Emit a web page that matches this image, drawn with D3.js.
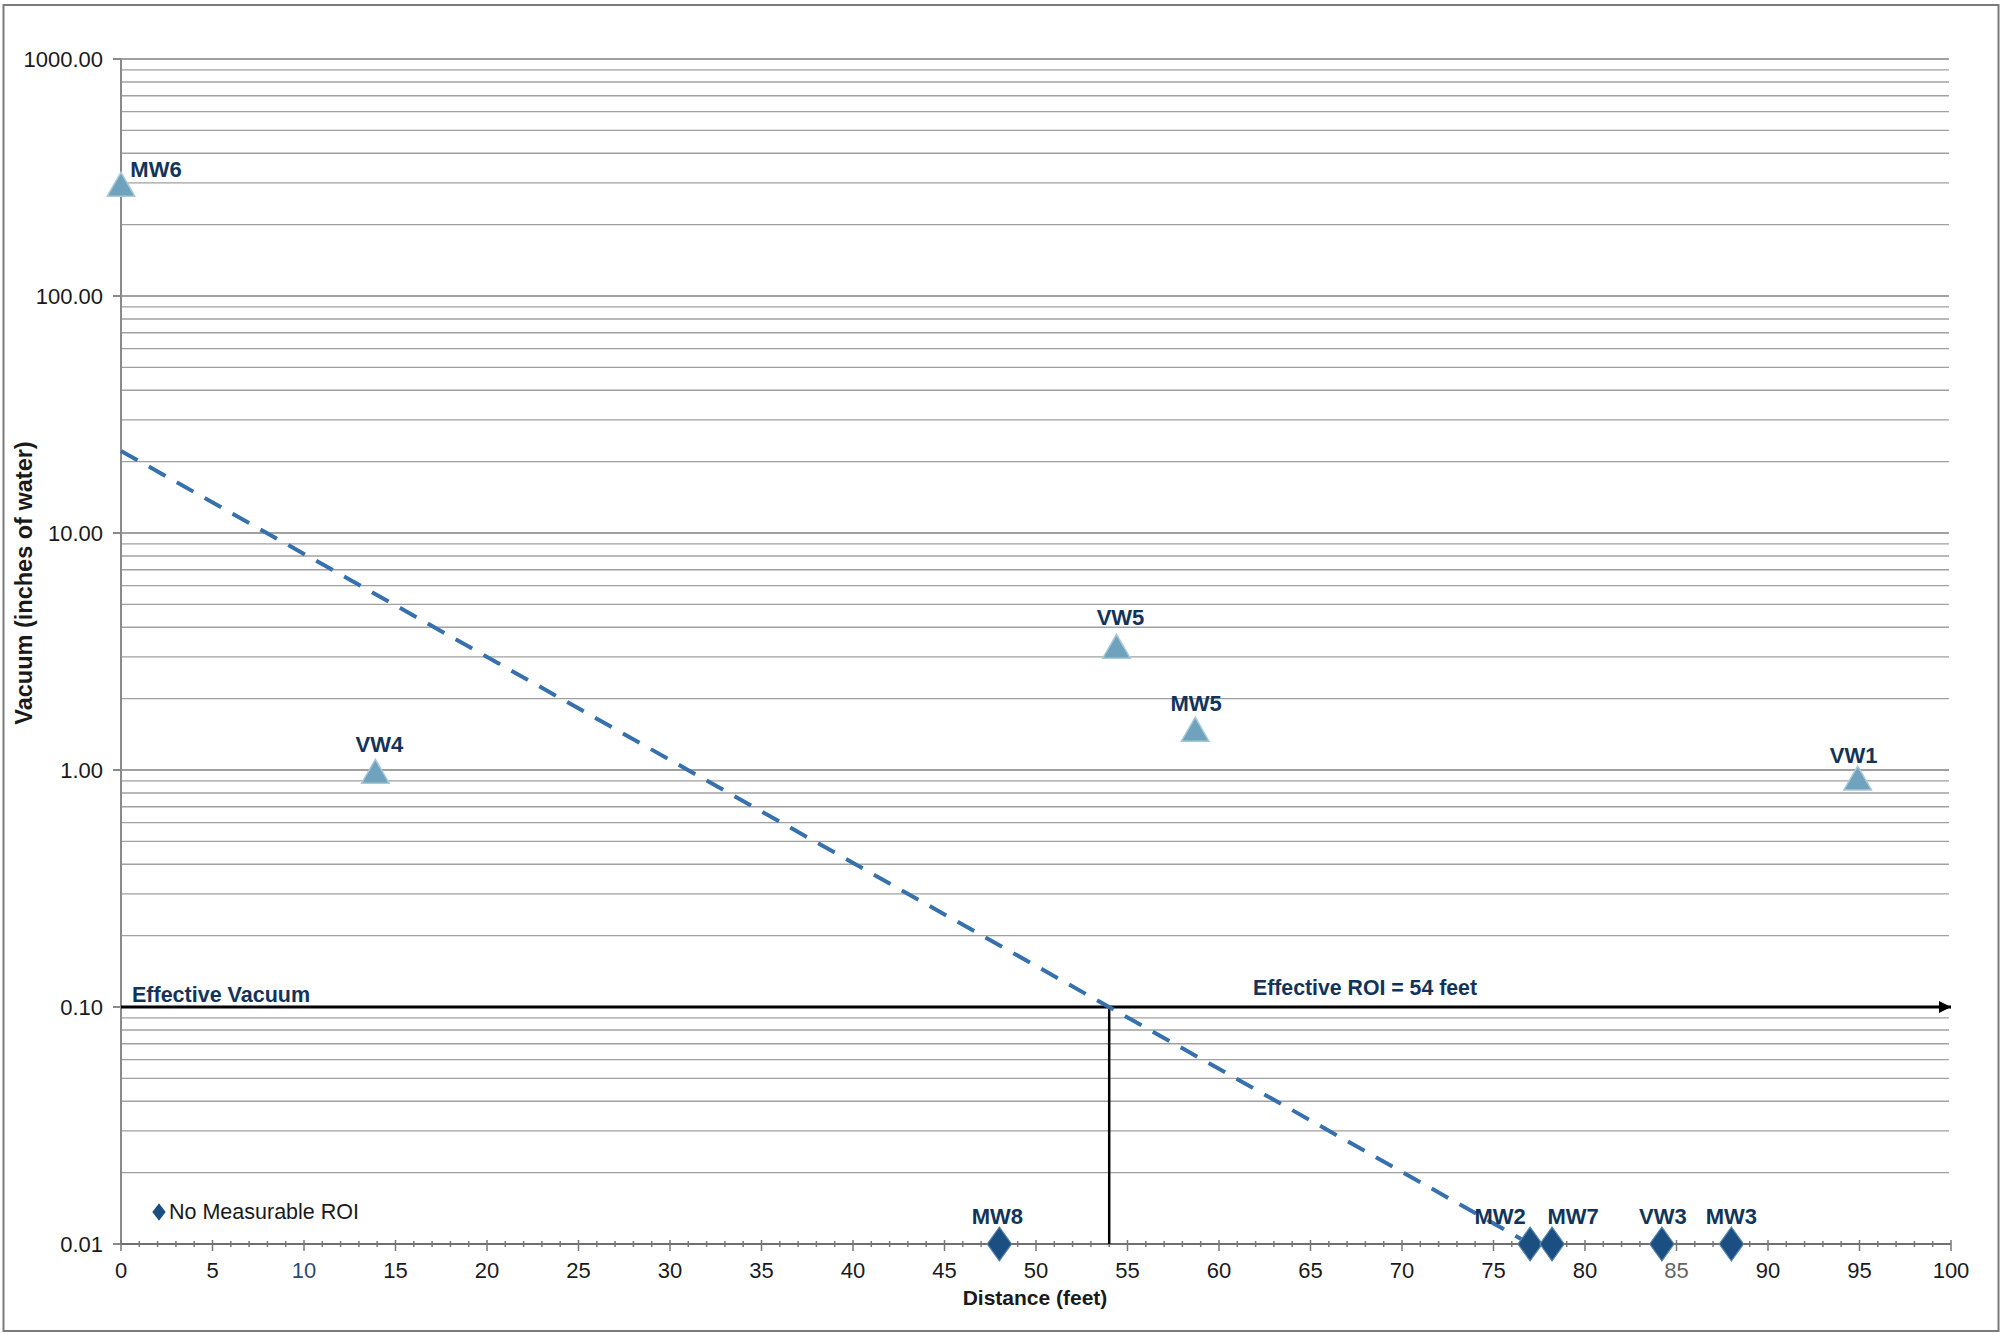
<!DOCTYPE html>
<html>
<head>
<meta charset="utf-8">
<script src="https://cdn.jsdelivr.net/npm/d3@7"></script>
<style>
  html, body { margin: 0; padding: 0; background: #fff; }
  svg { display: block; font-family: "Liberation Sans", Arial, sans-serif; }
  .grid-major { stroke: #808080; stroke-width: 1.7; }
  .grid-minor { stroke: #a0a0a0; stroke-width: 1.4; }
  .pt-label { font-weight: bold; font-size: 22px; fill: #12345a; text-anchor: middle; }
  .tick-label { font-size: 22px; fill: #1a1a1a; }
</style>
</head>
<body>
<div id="chart"></div>
<script>
// ---- Data ----
var wellNames     = ['MW6', 'VW4', 'VW5', 'MW5', 'VW1'];
var wellDistance  = [0, 13.9, 54.4, 58.7, 94.9];
var wellVacuum    = [285, 0.95, 3.2, 1.43, 0.89];

var noRoiNames    = ['MW8', 'MW2', 'MW7', 'VW3', 'MW3'];
var noRoiDistance = [48, 77, 78.2, 84.2, 88];
var noRoiVacuum   = [0.01, 0.01, 0.01, 0.01, 0.01];

var trendDistance = [0, 77];
var trendVacuum   = [22.2, 0.01];

var effectiveVacuum = 0.1;
var effectiveRoi    = 54;

var xTicks = d3.range(0, 101, 5);
var yTickLabels = [1000, 100, 10, 1, 0.1, 0.01];

// label nudges (pixels) where the labels are not centred over the mark
var LABEL_DX = { MW6: 35, VW4: 4, VW5: 4, MW5: 1, VW1: -4, MW8: -2, MW2: -30, MW7: 21, VW3: 1, MW3: 0 };
var LABEL_DY = { MW6: -11, VW4: -23, VW5: -25, MW5: -22, VW1: -19 };

var W = 2009, H = 1334;
var PLOT = { left: 121, right: 1951, top: 59, bottom: 1244 };

var svg = d3.select('#chart').append('svg')
  .attr('width', W)
  .attr('height', H);

// outer frame
svg.append('rect')
  .attr('x', 3.5).attr('y', 5)
  .attr('width', 1995).attr('height', 1326)
  .attr('fill', 'none')
  .attr('stroke', '#7a7a7a')
  .attr('stroke-width', 2);

var x = d3.scaleLinear().domain([0, 100]).range([PLOT.left, PLOT.right]);
var y = d3.scaleLog().domain([0.01, 1000]).range([PLOT.bottom, PLOT.top]);

// ---- Gridlines (log decades + 2..9 minors) ----
var gridVals = [];
[0.01, 0.1, 1, 10, 100].forEach(function (d) {
  for (var k = 1; k <= 9; k++) gridVals.push({ v: k * d, major: k === 1 });
});
gridVals.push({ v: 1000, major: true });

svg.append('g').selectAll('line')
  .data(gridVals.filter(function (d) { return d.v > 0.01; }))
  .enter().append('line')
  .attr('class', function (d) { return d.major ? 'grid-major' : 'grid-minor'; })
  .attr('x1', PLOT.left).attr('x2', PLOT.right - 2)
  .attr('y1', function (d) { return y(d.v); })
  .attr('y2', function (d) { return y(d.v); });

// ---- Y axis ----
var yAxis = svg.append('g');
yAxis.append('line')
  .attr('x1', PLOT.left).attr('x2', PLOT.left)
  .attr('y1', PLOT.top).attr('y2', PLOT.bottom)
  .attr('stroke', '#8a8a8a').attr('stroke-width', 2);

yAxis.selectAll('.ytick')
  .data(yTickLabels)
  .enter().append('line')
  .attr('x1', PLOT.left - 8).attr('x2', PLOT.left)
  .attr('y1', function (d) { return y(d); })
  .attr('y2', function (d) { return y(d); })
  .attr('stroke', '#8a8a8a').attr('stroke-width', 2);

yAxis.selectAll('text')
  .data(yTickLabels)
  .enter().append('text')
  .attr('class', 'tick-label')
  .attr('x', PLOT.left - 18)
  .attr('y', function (d) { return y(d) + 8; })
  .attr('text-anchor', 'end')
  .text(function (d) { return d.toFixed(2); });

// ---- X axis ----
var xAxis = svg.append('g');
xAxis.append('line')
  .attr('x1', PLOT.left).attr('x2', PLOT.right)
  .attr('y1', PLOT.bottom).attr('y2', PLOT.bottom)
  .attr('stroke', '#707070').attr('stroke-width', 2);

xAxis.selectAll('.xminor')
  .data(d3.range(0, 101, 1))
  .enter().append('line')
  .attr('x1', function (d) { return x(d); })
  .attr('x2', function (d) { return x(d); })
  .attr('y1', function (d) { return PLOT.bottom - (d % 5 === 0 ? 4 : 3); })
  .attr('y2', function (d) { return PLOT.bottom + (d % 5 === 0 ? 7 : 3); })
  .attr('stroke', '#777').attr('stroke-width', 1.5);

xAxis.selectAll('text')
  .data(xTicks)
  .enter().append('text')
  .attr('class', 'tick-label')
  .attr('x', function (d) { return x(d); })
  .attr('y', 1278)
  .attr('text-anchor', 'middle')
  .style('fill', function (d) { return d === 10 ? '#2b4a7c' : (d === 85 ? '#666' : null); })
  .text(function (d) { return d; });

// axis titles
svg.append('text')
  .attr('x', 1035).attr('y', 1305)
  .attr('text-anchor', 'middle')
  .attr('font-size', 21).attr('font-weight', 'bold').attr('fill', '#1a1a1a')
  .text('Distance (feet)');

svg.append('text')
  .attr('transform', 'translate(32,583) rotate(-90)')
  .attr('text-anchor', 'middle')
  .attr('font-size', 23.5).attr('font-weight', 'bold').attr('fill', '#1a1a1a')
  .text('Vacuum (inches of water)');

// ---- Effective vacuum / ROI lines ----
var defs = svg.append('defs');
defs.append('marker')
  .attr('id', 'arrow')
  .attr('viewBox', '0 0 10 10')
  .attr('refX', 10).attr('refY', 5)
  .attr('markerUnits', 'userSpaceOnUse')
  .attr('markerWidth', 16).attr('markerHeight', 12)
  .attr('orient', 'auto')
  .append('path')
  .attr('d', 'M0,0 L10,5 L0,10 Z')
  .attr('fill', '#000');

svg.append('line')
  .attr('x1', x(0)).attr('x2', x(100))
  .attr('y1', y(effectiveVacuum)).attr('y2', y(effectiveVacuum))
  .attr('stroke', '#000').attr('stroke-width', 3)
  .attr('marker-end', 'url(#arrow)');

svg.append('line')
  .attr('x1', x(effectiveRoi)).attr('x2', x(effectiveRoi))
  .attr('y1', y(effectiveVacuum)).attr('y2', y(0.01))
  .attr('stroke', '#000').attr('stroke-width', 2.5);

svg.append('text')
  .attr('x', 132).attr('y', 1002)
  .attr('font-size', 21.5).attr('font-weight', 'bold').attr('fill', '#12345a')
  .text('Effective Vacuum');

svg.append('text')
  .attr('x', 1253).attr('y', 995)
  .attr('font-size', 22.5).attr('font-weight', 'bold').attr('fill', '#12345a')
  .attr('textLength', 224).attr('lengthAdjust', 'spacingAndGlyphs')
  .text('Effective ROI = ' + effectiveRoi + ' feet');

// ---- Trendline ----
var trend = trendDistance.map(function (d, i) { return [d, trendVacuum[i]]; });
svg.append('path')
  .datum(trend)
  .attr('d', d3.line()
    .x(function (d) { return x(d[0]); })
    .y(function (d) { return y(d[1]); }))
  .attr('fill', 'none')
  .attr('stroke', '#3670ad')
  .attr('stroke-width', 4)
  .attr('stroke-dasharray', '19,13');

// ---- Measured wells (triangles) ----
var tri = d3.symbol().type(d3.symbolTriangle).size(330);
var wells = wellNames.map(function (n, i) {
  return { name: n, x: wellDistance[i], y: wellVacuum[i] };
});

svg.append('g').selectAll('path')
  .data(wells)
  .enter().append('path')
  .attr('d', tri)
  .attr('transform', function (d) { return 'translate(' + x(d.x) + ',' + y(d.y) + ')'; })
  .attr('fill', '#6fa2bd')
  .attr('stroke', '#a9c8d8')
  .attr('stroke-width', 1.5);

svg.append('g').selectAll('text')
  .data(wells)
  .enter().append('text')
  .attr('class', 'pt-label')
  .attr('x', function (d) { return x(d.x) + (LABEL_DX[d.name] || 0); })
  .attr('y', function (d) { return y(d.y) + (LABEL_DY[d.name] || -22); })
  .text(function (d) { return d.name; });

// ---- No measurable ROI (diamonds) ----
var dia = d3.symbol().type(d3.symbolDiamond).size(330);
var noRoi = noRoiNames.map(function (n, i) {
  return { name: n, x: noRoiDistance[i], y: noRoiVacuum[i] };
});

svg.append('g').selectAll('path')
  .data(noRoi)
  .enter().append('path')
  .attr('d', dia)
  .attr('transform', function (d) { return 'translate(' + x(d.x) + ',' + y(d.y) + ') scale(1.25,1)'; })
  .attr('fill', '#1b4f82')
  .attr('stroke', '#5d87b0')
  .attr('stroke-width', 1);

svg.append('g').selectAll('text')
  .data(noRoi)
  .enter().append('text')
  .attr('class', 'pt-label')
  .attr('x', function (d) { return x(d.x) + (LABEL_DX[d.name] || 0); })
  .attr('y', function (d) { return y(d.y) - 20; })
  .text(function (d) { return d.name; });

// ---- Legend ----
var legend = svg.append('g').attr('transform', 'translate(159,1212)');
legend.append('path')
  .attr('d', d3.symbol().type(d3.symbolDiamond).size(90))
  .attr('transform', 'scale(1.3,1)')
  .attr('fill', '#1b4f82');
legend.append('text')
  .attr('x', 10).attr('y', 7)
  .attr('font-size', 21.5).attr('fill', '#1a1a1a')
  .text('No Measurable ROI');
</script>
</body>
</html>
